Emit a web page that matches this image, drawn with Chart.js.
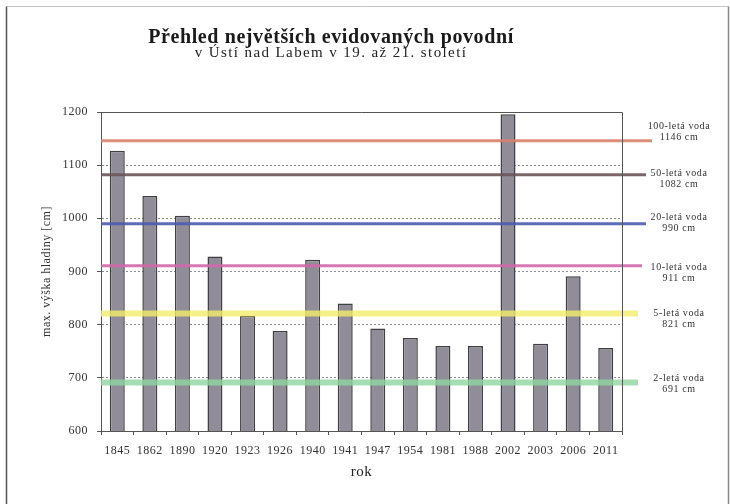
<!DOCTYPE html>
<html>
<head>
<meta charset="utf-8">
<script src="https://cdn.jsdelivr.net/npm/chart.js@4/dist/chart.umd.min.js"></script>
<style>
  html, body { margin: 0; padding: 0; background: #fff; }
  #wrap { position: relative; width: 730px; height: 504px; overflow: hidden; }
  #c { position: absolute; left: 0; top: 0; }
  .t1 { position: absolute; left: 0; width: 662px; top: 26px; text-align: center;
        font: bold 20px 'Liberation Serif', serif; line-height: 20px; letter-spacing: 0.6px; color: #1a1a1a; white-space: nowrap; }
  .t2 { position: absolute; left: 0; width: 662px; top: 45px; text-align: center;
        font: 15px 'Liberation Serif', serif; line-height: 15px; letter-spacing: 1.4px; color: #222; white-space: nowrap; }
</style>
</head>
<body>
<div id="wrap">
  <canvas id="c" width="730" height="504"></canvas>
  <div class="t1">Přehled největších evidovaných povodní</div>
  <div class="t2">v Ústí nad Labem v 19. až 21. století</div>
</div>
<script>
// ---- data ----
const categories = ['1845','1862','1890','1920','1923','1926','1940','1941','1947','1954','1981','1988','2002','2003','2006','2011'];
const maxLevels = [1127,1042,1005,928,817,788,922,840,793,775,760,760,1196,764,891,756];
const returnPeriodNames = ['100-letá voda','50-letá voda','20-letá voda','10-letá voda','5-letá voda','2-letá voda'];
const returnPeriodLevels = [1146,1082,990,911,821,691];
const yAxisMin = 600;
const yAxisMax = 1200;
const yAxisStep = 100;
const xAxisTitle = 'rok';
const yAxisTitle = 'max. výška hladiny [cm]';

// ---- styles ----
const levelStyle = {
  colors:   ['#d9826a','#6b5458','#4a5cb0','#d268aa','#f3ee6a','#8fd6a0'],
  widths:   [3,3,3,3,6,6],
  alpha:    [0.9,0.9,0.9,0.9,0.8,0.8],
  overhang: [30,24,24,20,16,16],
  labelDy:  [-14,-1,-6,2,0,-4],
  labelX:   57
};

const framePlugin = {
  id: 'frame',
  beforeDraw(chart) {
    const ctx = chart.ctx;
    ctx.letterSpacing = '0.5px';
    ctx.save();
    ctx.lineWidth = 1;
    ctx.strokeStyle = '#c4c4c4';
    ctx.beginPath(); ctx.moveTo(6.5, 6.5); ctx.lineTo(728.5, 6.5); ctx.stroke();
    ctx.strokeStyle = '#555';
    ctx.lineWidth = 1.5;
    ctx.beginPath(); ctx.moveTo(6.5, 6.5); ctx.lineTo(6.5, 504); ctx.stroke();
    ctx.strokeStyle = '#888';
    ctx.beginPath(); ctx.moveTo(728.5, 6.5); ctx.lineTo(728.5, 504); ctx.stroke();
    ctx.restore();
  },
  afterDraw(chart) {
    const {ctx, chartArea: a} = chart;
    ctx.save();
    ctx.strokeStyle = '#555';
    ctx.lineWidth = 1;
    ctx.beginPath();
    ctx.moveTo(a.left, a.top + 0.5);
    ctx.lineTo(a.right + 0.5, a.top + 0.5);
    ctx.lineTo(a.right + 0.5, a.bottom);
    ctx.stroke();
    ctx.restore();
  }
};

const levelLinesPlugin = {
  id: 'levelLines',
  afterDatasetsDraw(chart) {
    const {ctx, chartArea: a, scales: {y}} = chart;
    returnPeriodLevels.forEach((v, i) => {
      const py = y.getPixelForValue(v);
      ctx.save();
      ctx.globalAlpha = levelStyle.alpha[i];
      ctx.strokeStyle = levelStyle.colors[i];
      ctx.lineWidth = levelStyle.widths[i];
      ctx.beginPath();
      ctx.moveTo(a.left, py);
      ctx.lineTo(a.right + levelStyle.overhang[i], py);
      ctx.stroke();
      ctx.restore();

      ctx.save();
      ctx.fillStyle = '#333';
      ctx.font = "10px 'Liberation Serif', serif";
      ctx.letterSpacing = '0.6px';
      ctx.textAlign = 'center';
      ctx.textBaseline = 'middle';
      const lx = a.right + levelStyle.labelX;
      const ly = py + levelStyle.labelDy[i];
      ctx.fillText(returnPeriodNames[i], lx, ly);
      ctx.fillText(returnPeriodLevels[i] + ' cm', lx, ly + 11);
      ctx.restore();
    });
  }
};

new Chart(document.getElementById('c'), {
  type: 'bar',
  data: {
    labels: categories,
    datasets: [{
      label: 'max. výška hladiny',
      data: maxLevels,
      backgroundColor: '#918d98',
      borderColor: '#3f3f44',
      borderWidth: 1.5,
      categoryPercentage: 1,
      barPercentage: 0.46
    }]
  },
  options: {
    responsive: false,
    animation: false,
    layout: { padding: { top: 112, right: 108, bottom: 0, left: 0 } },
    plugins: {
      legend: { display: false },
      tooltip: { enabled: false },
      title: { display: false }
    },
    scales: {
      x: {
        afterFit: s => { s.height = 73; },
        grid: { display: true, drawOnChartArea: false, drawTicks: true, tickLength: 4, color: '#555', offset: true },
        border: { display: true, color: '#555', width: 1 },
        ticks: { color: '#333', padding: 9, maxRotation: 0, autoSkip: false,
                 font: { family: "'Liberation Serif', serif", size: 12 } },
        title: { display: true, text: xAxisTitle, color: '#222', padding: { top: 0, bottom: 23 },
                 font: { family: "'Liberation Serif', serif", size: 15 } }
      },
      y: {
        min: yAxisMin,
        max: yAxisMax,
        afterFit: s => { s.width = 101; },
        ticks: { stepSize: yAxisStep, color: '#333', padding: 9,
                 callback: v => String(v),
                 font: { family: "'Liberation Serif', serif", size: 12 } },
        grid: { color: '#8a8a8a', lineWidth: 1, drawTicks: true, tickLength: 4, tickColor: '#555', tickBorderDash: [] },
        border: { display: true, color: '#555', width: 1, dash: [2, 2] },
        title: { display: true, text: yAxisTitle, color: '#333', padding: { top: 40, bottom: 0 },
                 font: { family: "'Liberation Serif', serif", size: 12 } }
      }
    }
  },
  plugins: [framePlugin, levelLinesPlugin]
});
</script>
</body>
</html>
